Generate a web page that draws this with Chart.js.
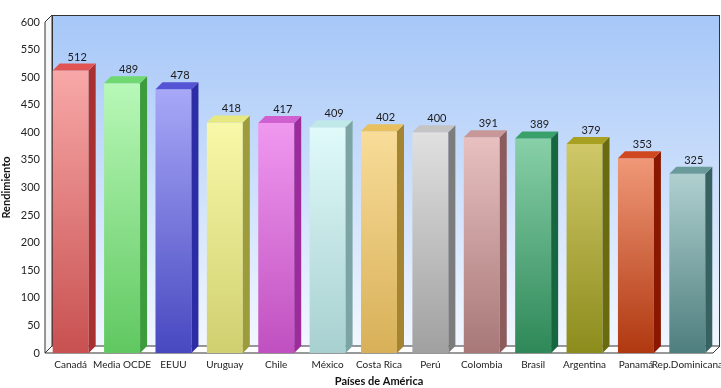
<!DOCTYPE html>
<html>
<head>
<meta charset="utf-8">
<script src="https://cdn.jsdelivr.net/npm/chart.js@4.4.1/dist/chart.umd.min.js"></script>
<style>
  html, body { margin: 0; padding: 0; background: #fff; }
  #wrap { width: 721px; height: 388px; }
</style>
</head>
<body>
<div id="wrap"><canvas id="chart" width="721" height="388"></canvas></div>
<script>
const COUNTRIES = ['Canadá','Media OCDE','EEUU','Uruguay','Chile','México','Costa Rica','Perú','Colombia','Brasil','Argentina','Panamá','Rep.Dominicana'];
const SCORES    = [512, 489, 478, 418, 417, 409, 402, 400, 391, 389, 379, 353, 325];

// front gradient (top, bottom), side face, top face
const FRONT_TOP = ['#f8a8a8','#b8f8b8','#a8a8f8','#f8f8a8','#f098f0','#e0fafa','#f8dc98','#e0e0e0','#e8c0c0','#88d0a8','#d0c868','#f09878','#b0d0d0'];
const FRONT_BOT = ['#c85050','#60c860','#4848c0','#d0d070','#c050c0','#a8d0d0','#d8b058','#a0a0a0','#a87878','#2e8858','#8c8c1c','#b03810','#4e7e7e'];
const SIDE_COL  = ['#a83030','#3c9c3c','#2c2ca4','#9c9c3c','#9c2c9c','#7ca4a4','#a48430','#7c7c7c','#8c5c5c','#186640','#6a6a0e','#8a1800','#386262'];
const TOP_COL   = ['#e05454','#70d870','#5454d4','#e8e880','#d060d0','#c0e8e8','#e8c060','#c4c4c4','#c89898','#38a068','#a8a020','#d04820','#6a9a9a'];

const DX = 7, DY = 7;

const box3d = {
  id: 'box3d',
  beforeDatasetsDraw(chart) {
    const { ctx, chartArea: a } = chart;
    ctx.save();
    // back wall
    const g = ctx.createLinearGradient(0, a.top - DY, 0, a.bottom - DY);
    g.addColorStop(0, '#a6c7f8');
    g.addColorStop(1, '#f2f7ff');
    ctx.fillStyle = g;
    ctx.fillRect(a.left + DX, a.top - DY, a.right - a.left, a.bottom - a.top);
    ctx.strokeStyle = '#333';
    ctx.lineWidth = 1;
    ctx.strokeRect(a.left + DX + 0.5, a.top - DY + 0.5, a.right - a.left - 1, a.bottom - a.top);
    // left wall
    ctx.beginPath();
    ctx.moveTo(a.left, a.top);
    ctx.lineTo(a.left + DX, a.top - DY);
    ctx.lineTo(a.left + DX, a.bottom - DY);
    ctx.lineTo(a.left, a.bottom);
    ctx.closePath();
    ctx.fillStyle = '#f4f6f8';
    ctx.fill();
    ctx.stroke();
    // floor
    ctx.beginPath();
    ctx.moveTo(a.left, a.bottom);
    ctx.lineTo(a.left + DX, a.bottom - DY);
    ctx.lineTo(a.right + DX, a.bottom - DY);
    ctx.lineTo(a.right, a.bottom);
    ctx.closePath();
    ctx.fillStyle = '#ffffff';
    ctx.fill();
    ctx.stroke();
    ctx.restore();
  },
  afterDatasetsDraw(chart) {
    const { ctx } = chart;
    const meta = chart.getDatasetMeta(0);
    ctx.save();
    meta.data.forEach((bar, i) => {
      const l = bar.x - bar.width / 2, r = bar.x + bar.width / 2;
      const t = bar.y, b = bar.base;
      // side
      ctx.beginPath();
      ctx.moveTo(r, t);
      ctx.lineTo(r + DX, t - DY);
      ctx.lineTo(r + DX, b - DY);
      ctx.lineTo(r, b);
      ctx.closePath();
      ctx.fillStyle = SIDE_COL[i];
      ctx.fill();
      // top
      ctx.beginPath();
      ctx.moveTo(l, t);
      ctx.lineTo(l + DX, t - DY);
      ctx.lineTo(r + DX, t - DY);
      ctx.lineTo(r, t);
      ctx.closePath();
      ctx.fillStyle = TOP_COL[i];
      ctx.fill();
      // value label
      ctx.fillStyle = '#1a1a1a';
      ctx.font = '11px Lato';
      ctx.textAlign = 'center';
      ctx.textBaseline = 'bottom';
      ctx.fillText(String(SCORES[i]), bar.x + DX / 2 + 3, t - DY - 1);
    });
    ctx.restore();
  }
};

new Chart(document.getElementById('chart'), {
  type: 'bar',
  data: {
    labels: COUNTRIES,
    datasets: [{
      data: SCORES,
      barPercentage: 0.7,
      categoryPercentage: 1,
      borderWidth: 0,
      backgroundColor(c) {
        const chart = c.chart;
        if (!chart.chartArea || c.dataIndex === undefined) return FRONT_BOT[c.dataIndex || 0];
        const y = chart.scales.y;
        const g = chart.ctx.createLinearGradient(0, y.getPixelForValue(SCORES[c.dataIndex]), 0, y.getPixelForValue(0));
        g.addColorStop(0, FRONT_TOP[c.dataIndex]);
        g.addColorStop(1, FRONT_BOT[c.dataIndex]);
        return g;
      },
    }],
  },
  options: {
    responsive: false,
    animation: false,
    layout: { padding: { top: 22, right: 8, left: 0, bottom: 0 } },
    plugins: { legend: { display: false }, tooltip: { enabled: false } },
    scales: {
      x: {
        grid: { display: false, drawTicks: false },
        border: { display: false },
        ticks: { color: '#222', font: { family: 'Lato', size: 10 }, padding: 6, maxRotation: 0, autoSkip: false },
        title: { display: true, text: 'Países de América', color: '#111', font: { family: 'Lato', size: 11, weight: 'bold' }, padding: { top: 3, bottom: 0 } },
        afterFit(s) { s.height = 35; s.paddingLeft = 0; s.paddingRight = 0; },
      },
      y: {
        min: 0, max: 600,
        grid: { display: false, drawTicks: false },
        border: { display: false },
        ticks: { stepSize: 50, color: '#222', font: { family: 'Lato', size: 11 }, padding: 5 },
        title: { display: true, text: 'Rendimiento', color: '#111', font: { family: 'Lato', size: 11, weight: 'bold' }, padding: { top: 0, bottom: 0, y: 0 } },
        afterFit(s) { s.width = 45; s.paddingTop = 0; s.paddingBottom = 0; },
      },
    },
  },
  plugins: [box3d],
});
</script>
</body>
</html>
